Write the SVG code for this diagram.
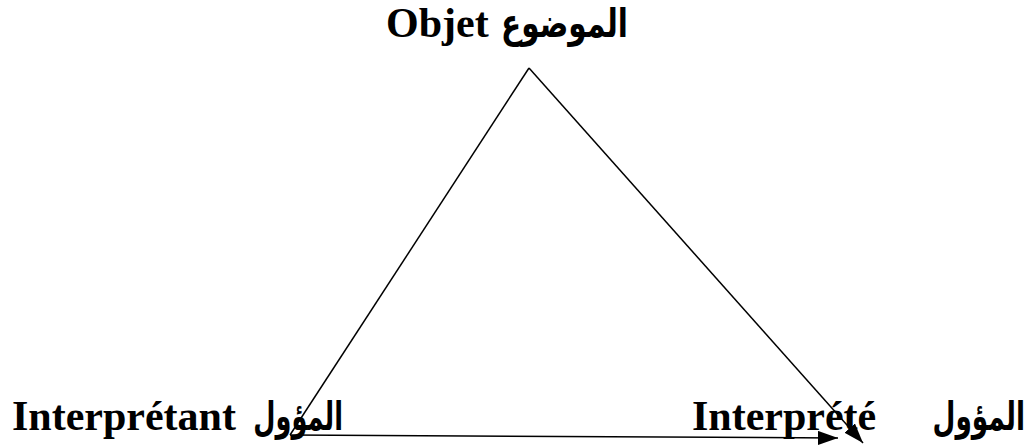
<svg xmlns="http://www.w3.org/2000/svg" width="1033" height="446" viewBox="0 0 1033 446">
<style>
.lat{font-family:"Liberation Serif","Times New Roman",serif;font-weight:bold;font-size:42px;fill:#000}
.ar{font-family:"Liberation Serif","DejaVu Sans","Noto Sans",serif;font-weight:bold;font-size:40px;fill:#000;text-anchor:end}
.ln{stroke:#000;stroke-width:1.5;fill:none}
</style>
<defs>
<marker id="ah" markerUnits="userSpaceOnUse" markerWidth="20" markerHeight="14" refX="20" refY="7" orient="auto">
<path d="M0,0 L20,7 L0,14 z" fill="#000"/>
</marker>
</defs>
<rect width="1033" height="446" fill="#fff"/>
<g id="connectors">
<line class="ln" x1="529" y1="68" x2="290" y2="435"/>
<line class="ln" x1="529" y1="68" x2="863" y2="443" marker-end="url(#ah)"/>
<line class="ln" x1="290" y1="435" x2="838" y2="438" marker-end="url(#ah)"/>
</g>
<g id="node-objet">
<text class="lat" x="386" y="37">Objet</text>
<text class="ar" transform="translate(628,37) scale(0.74,1)">الموضوع</text>
</g>
<g id="node-interpretant">
<text class="lat" x="12" y="430">Interprétant</text>
<text class="ar" transform="translate(343,430) scale(0.64,1)">المؤول</text>
</g>
<g id="node-interprete">
<text class="lat" x="692" y="430">Interprété</text>
<text class="ar" transform="translate(1025,430) scale(0.66,1)">المؤول</text>
</g>
</svg>
